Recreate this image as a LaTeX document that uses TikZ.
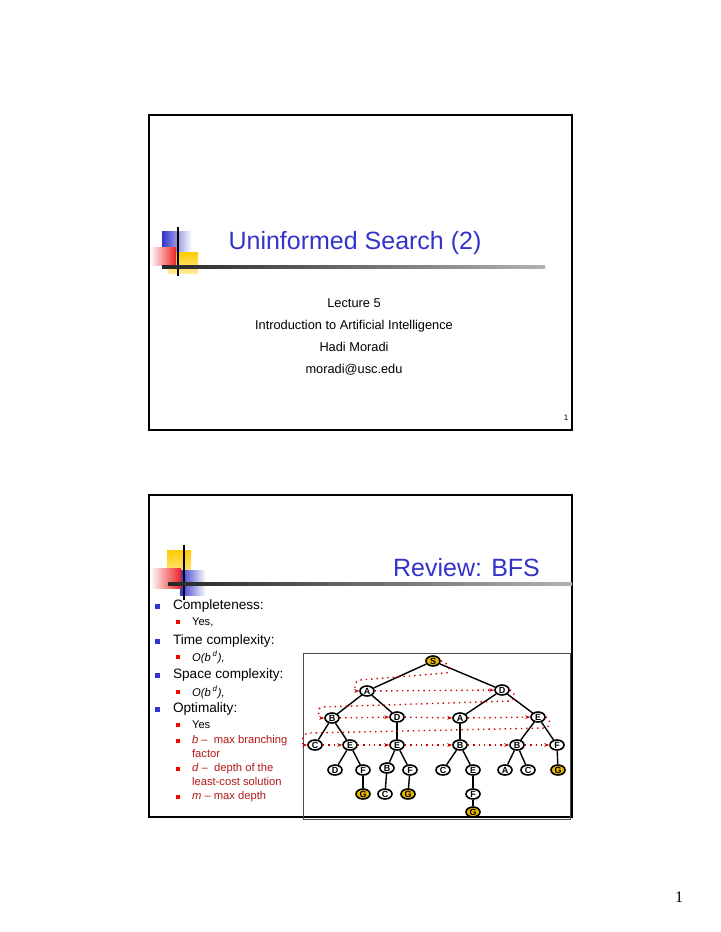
\documentclass[tikz,border=0pt]{standalone}
\usepackage{fontspec}
\setmainfont{Liberation Sans}
\newfontfamily\pageserif{Liberation Serif}
\usetikzlibrary{positioning}
\usetikzlibrary{arrows.meta}
\usetikzlibrary{shapes.geometric}
\definecolor{slide-blue}{HTML}{3333CC}
\definecolor{slide-red}{HTML}{B01818}
\definecolor{logo-blue}{HTML}{3333CC}
\definecolor{logo-yellow}{HTML}{FFCC00}
\definecolor{logo-red}{HTML}{EE2222}
\definecolor{goal-yellow}{HTML}{E8B800}
\tikzset{
  tnode/.style={ellipse, draw, line width=0.8pt, inner sep=0pt, minimum width=7pt, minimum height=5pt, font=\bfseries\fontsize{4.5}{4.5}\selectfont},
  gnode/.style={tnode, fill=goal-yellow},
  bfsline/.style={draw=red!80!black, dotted, line width=0.7pt, -{Stealth[length=2.5pt]}},
  lone/.style={anchor=west, font=\fontsize{6.8}{8}\selectfont},
  ltwo/.style={anchor=west, text=slide-red, font=\fontsize{5.6}{6.5}\selectfont},
}
\newcommand{\bulone}[1]{\fill[slide-blue] (157-2.5,#1-2.5) rectangle ++(5,5);}
\newcommand{\bultwo}[1]{\fill[red] (178-2,#1-2) rectangle ++(4,4);}

\begin{document}
\begin{tikzpicture}[x=0.5pt, y=-0.5pt]
    \useasboundingbox (0,0) rectangle (720,932);

    % slide one
    \draw[line width=0.6pt] (149,115) rectangle (572,430);
    \shade[left color=logo-blue, right color=white] (162,231) rectangle (192,252);
    \shade[top color=logo-yellow, bottom color=logo-yellow!40] (168,252) rectangle (198,273);
    \shade[right color=logo-red, left color=white] (150,247) rectangle (176,265);
    \draw[line width=0.8pt] (178,227) -- (178,276);
    \shade[left color=black!85, right color=black!30] (162,265) rectangle (545,268);
    \node[text=slide-blue, font=\fontsize{12.5}{14}\selectfont] (title1) at (355,243) {Uninformed Search (2)};
    \node[font=\fontsize{6.4}{8}\selectfont, align=center] (sub1) at (354,337)
      {Lecture 5\\[3pt]Introduction to Artificial Intelligence\\[3pt]Hadi Moradi\\[3pt]moradi@usc.edu};
    \node[font=\fontsize{4}{5}\selectfont] (pg1) at (566,418) {1};

    % slide two
    \draw[line width=0.6pt] (149,495) rectangle (572,817);
    \shade[top color=logo-yellow, bottom color=logo-yellow!40] (167,550) rectangle (191,577);
    \shade[left color=logo-blue, right color=white] (180,570) rectangle (206,595);
    \shade[right color=logo-red, left color=white] (150,568) rectangle (181,588);
    \draw[line width=0.8pt] (184,545) -- (184,600);
    \shade[left color=black!85, right color=black!30] (168,582) rectangle (572,585);
    \node[text=slide-blue, anchor=east, font=\fontsize{12.5}{14}\selectfont] (title2) at (547,568) {Review: BFS};

    \bulone{606} \node[lone] (comp) at (166,606) {Completeness:};
    \bultwo{622} \node[ltwo, text=black] (compa) at (185,622) {Yes,};
    \bulone{641} \node[lone] (time) at (166,641) {Time complexity:};
    \bultwo{657} \node[ltwo, text=black] (timea) at (185,657) {\itshape O(b\,\textsuperscript{d}),};
    \bulone{675} \node[lone] (space) at (166,675) {Space complexity:};
    \bultwo{692} \node[ltwo, text=black] (spacea) at (185,692) {\itshape O(b\,\textsuperscript{d}),};
    \bulone{709} \node[lone] (opt) at (166,709) {Optimality:};
    \bultwo{725} \node[ltwo, text=black] (opta) at (185,725) {Yes};
    \bultwo{741} \node[ltwo] (bdef) at (185,741) {\textit{b} --\ \ max branching};
    \node[ltwo] (bdef2) at (185,753) {factor};
    \bultwo{769} \node[ltwo] (ddef) at (185,769) {\textit{d} --\ \ depth of the};
    \node[ltwo] (ddef2) at (185,781) {least-cost solution};
    \bultwo{797} \node[ltwo] (mdef) at (185,797) {\textit{m} -- max depth};

    % search tree
    \draw[line width=0.5pt, black!70] (303,653) rectangle (570,819);
    \node[gnode] (S) at (433,661) {S};
    \node[tnode] (A1) at (367,691) {A};
    \node[tnode] (D1) at (502,690) {D};
    \node[tnode] (B2) at (332,718) {B};
    \node[tnode] (D2) at (397,717) {D};
    \node[tnode] (A2) at (460,718) {A};
    \node[tnode] (E2) at (538,717) {E};
    \node[tnode] (C3) at (315,745) {C};
    \node[tnode] (E3a) at (350,745) {E};
    \node[tnode] (E3b) at (397,745) {E};
    \node[tnode] (B3a) at (460,745) {B};
    \node[tnode] (B3b) at (517,745) {B};
    \node[tnode] (F3) at (557,745) {F};
    \node[tnode] (D4) at (335,770) {D};
    \node[tnode] (F4a) at (363,770) {F};
    \node[tnode] (B4) at (387,768) {B};
    \node[tnode] (F4b) at (410,770) {F};
    \node[tnode] (C4a) at (443,770) {C};
    \node[tnode] (E4) at (473,770) {E};
    \node[tnode] (A4) at (505,770) {A};
    \node[tnode] (C4b) at (528,770) {C};
    \node[gnode] (G4) at (558,770) {G};
    \node[gnode] (G5a) at (363,794) {G};
    \node[tnode] (C5) at (385,794) {C};
    \node[gnode] (G5b) at (408,794) {G};
    \node[tnode] (F5) at (473,794) {F};
    \node[gnode] (G6) at (473,812) {G};

    \foreach \a/\b in {S/A1, S/D1, A1/B2, A1/D2, D1/A2, D1/E2, B2/C3, B2/E3a, D2/E3b,
                       A2/B3a, E2/B3b, E2/F3, E3a/D4, E3a/F4a, E3b/B4, E3b/F4b,
                       B3a/C4a, B3a/E4, B3b/A4, B3b/C4b, F3/G4, F4a/G5a, B4/C5, F4b/G5b,
                       E4/F5, F5/G6}
      \draw[line width=0.7pt] (\a) -- (\b);

    % breadth-first order
    \draw[bfsline] (S.east) to[out=0, in=0, looseness=1.3] (446,673) -- (360,680)
      to[out=180, in=180, looseness=1.3] (A1.west);
    \draw[bfsline] (A1) -- (D1);
    \draw[bfsline] (D1.east) to[out=0, in=0, looseness=1.3] (510,701) -- (322,707)
      to[out=180, in=180, looseness=1.3] (B2.west);
    \foreach \a/\b in {B2/D2, D2/A2, A2/E2}
      \draw[bfsline] (\a) -- (\b);
    \draw[bfsline] (E2.east) to[out=0, in=0, looseness=1.3] (545,728) -- (308,733)
      to[out=180, in=180, looseness=1.3] (C3.west);
    \foreach \a/\b in {C3/E3a, E3a/E3b, E3b/B3a, B3a/B3b, B3b/F3}
      \draw[bfsline] (\a) -- (\b);

    \node[font=\pageserif\fontsize{8}{9}\selectfont] (pg2) at (679,897) {1};
\end{tikzpicture}
\end{document}
